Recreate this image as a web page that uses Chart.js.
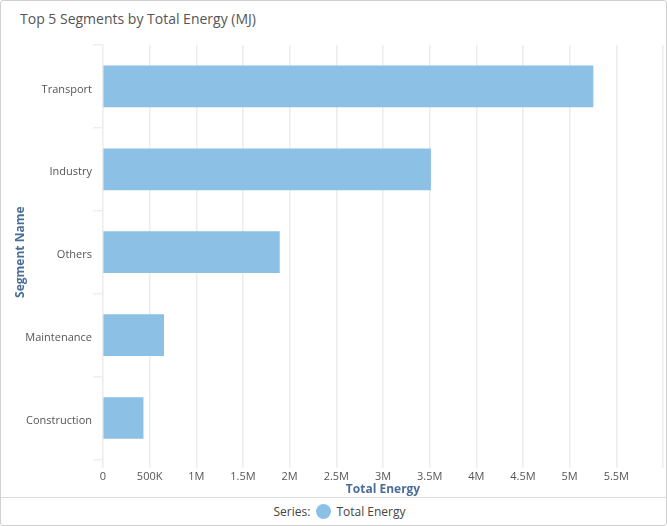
<!DOCTYPE html>
<html>
<head>
<meta charset="utf-8">
<script src="https://cdn.jsdelivr.net/npm/chart.js@4"></script>
<style>
body{margin:0;background:#fff;font-family:"Open Sans",sans-serif;}
.card{position:absolute;left:0;top:0;width:665px;height:524px;border:1px solid #d0d0d0;border-radius:3px;}
.title{position:absolute;left:19px;top:8px;font-size:14px;color:#555;}
.chart-box{position:absolute;left:0;top:34px;width:665px;height:462px;}
.legend{position:absolute;left:0;top:496px;width:665px;height:28px;border-top:1px solid #ddd;box-sizing:border-box;
  padding-left:12px;display:flex;justify-content:center;align-items:center;font-size:12px;color:#444;}
.dot{display:inline-block;width:15px;height:15px;border-radius:50%;margin:0 5px 0 6px;}
</style>
</head>
<body>
<div class="card">
  <div class="title">Top 5 Segments by Total Energy (MJ)</div>
  <div class="chart-box"><canvas id="energyChart"></canvas></div>
  <div class="legend" id="legend"></div>
</div>
<script>
// chart data
const segments = ['Transport','Industry','Others','Maintenance','Construction'];
const totalEnergy = [5250000, 3510000, 1890000, 650000, 430000];
const tickLabels = ['0','500K','1M','1.5M','2M','2.5M','3M','3.5M','4M','4.5M','5M','5.5M',''];

const barColor = '#8dc0e5';

const ctx = document.getElementById('energyChart');

new Chart(ctx, {
type: 'bar',
data: {
labels: segments,
datasets: [{
label: 'Total Energy',
data: totalEnergy,
backgroundColor: barColor,
barThickness: 41
}]
},
options: {
indexAxis: 'y',
responsive: true,
maintainAspectRatio: false,
animation: false,
layout: { padding: { top: 10, right: 2, left: 12, bottom: 0 } },
plugins: {
legend: { display: false },
tooltip: { enabled: false }
},
scales: {
x: {
min: 0,
max: 6000000,
ticks: {
stepSize: 500000,
color: '#555',
font: { family: 'Open Sans', size: 11 },
callback: (v, i) => tickLabels[i]
},
grid: { color: '#ececec', lineWidth: 1.5, tickLength: 8 },
border: { display: false },
title: {
display: true,
text: 'Total Energy',
color: '#4a6e98',
font: { family: 'Open Sans', size: 12, weight: 'bold' },
padding: { top: -4, bottom: 0 }
}
},
y: {
ticks: {
color: '#555',
font: { family: 'Open Sans', size: 11 },
padding: 1,
labelOffset: 3
},
grid: { offset: true, drawOnChartArea: false, color: '#eeeeee', tickLength: 10, lineWidth: 1.5 },
border: { display: false },
title: {
display: true,
text: 'Segment Name',
color: '#4a6e98',
font: { family: 'Open Sans', size: 12, weight: 'bold' },
padding: { top: 0, bottom: 0 }
},
afterFit: (axis) => { axis.width = 90; }
}
}
}
});

// html legend
const legend = document.getElementById('legend');
legend.innerHTML = 'Series:<span class="dot" style="background:' + barColor + '"></span>Total Energy';
</script>
</body>
</html>
